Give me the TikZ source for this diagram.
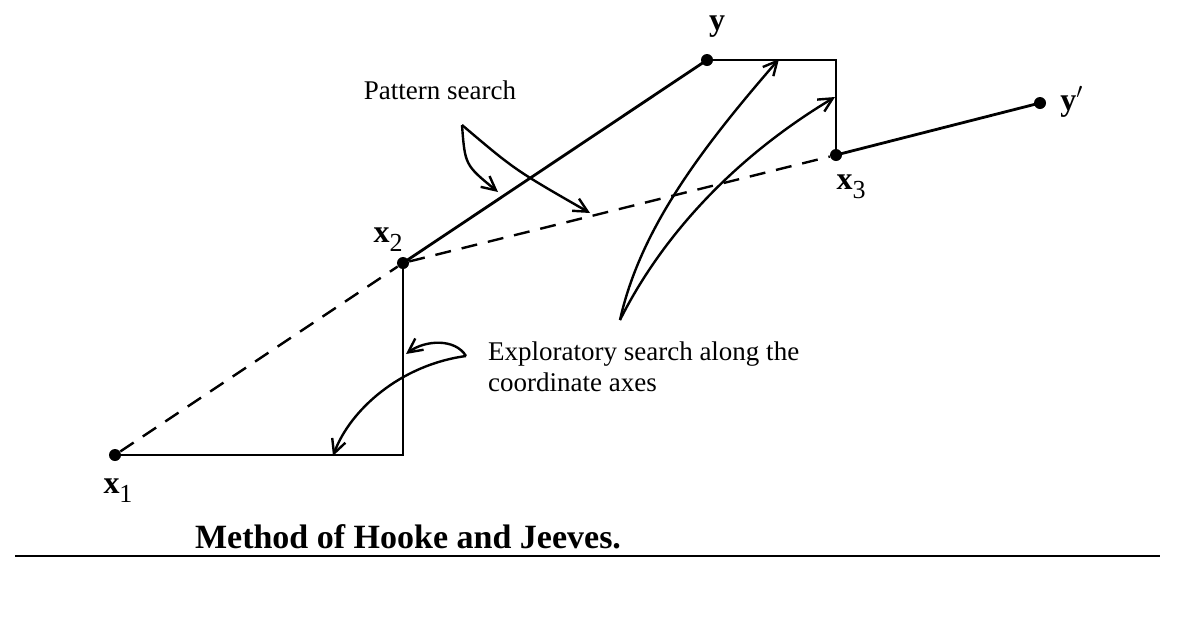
\documentclass[tikz,border=0pt]{standalone}
\usepackage{fontspec}
\setmainfont{Liberation Serif}
\usetikzlibrary{arrows.meta}
\newcommand{\lowsub}[1]{\raisebox{-4.5pt}{\mdseries\fontsize{13}{13}\selectfont #1}}

\begin{document}
\begin{tikzpicture}[
    x=0.5pt, y=-0.5pt,
    pt/.style={circle, fill, inner sep=0pt, minimum size=6pt},
    path/.style={line width=1.4pt},
    pattern/.style={line width=1.2pt, dash pattern=on 8pt off 5.5pt},
    hint/.style={-{Straight Barb[length=7pt, width=7pt, line width=1.2pt]}, line width=1.2pt},
    lbl/.style={font=\fontsize{16}{18}\selectfont\bfseries},
    note/.style={font=\fontsize{13.5}{15.5}\selectfont, align=left},
]
    \useasboundingbox (0,0) rectangle (1190,622);

    % points of the search
    \node[pt] (x1) at (115,455) {};
    \node[pt] (x2) at (403,263) {};
    \node[pt] (y)  at (707,60) {};
    \node[pt] (x3) at (836,155) {};
    \node[pt] (yp) at (1040,103) {};
    \coordinate (c1) at (403,455);
    \coordinate (c2) at (836,60);

    \node[lbl] at (388,240) {x\lowsub{2}};
    \node[lbl] at (717,27) {y};
    \node[lbl] at (851,187) {x\lowsub{3}};
    \node[lbl] at (1072,102) {y\mdseries$'$};
    \node[lbl] at (118,491) {x\lowsub{1}};

    % exploratory moves and pattern moves
    \draw[path] (x1.center) -- (c1) -- (x2.center);
    \draw[path] (x2.center) -- (y.center);
    \draw[path] (y.center) -- (c2) -- (x3.center);
    \draw[path] (x3.center) -- (yp.center);
    \draw[pattern] (x1) -- (x2);
    \draw[pattern] (x2) -- (x3);

    % pattern search notes
    \node[note] (pat) at (440,90) {Pattern search};
    \coordinate (pa) at (462,125);
    \coordinate (pb) at (498,192);
    \coordinate (pc) at (590,213);
    \draw[hint] (pa) .. controls (465,165) .. (pb);
    \draw[hint] (pa) .. controls (515,170) .. (pc);

    % exploratory search notes
    \node[note, anchor=west] (exp) at (481,367) {Exploratory search along the\\coordinate axes};
    \coordinate (ea) at (466,356);
    \coordinate (eb) at (406,354);
    \coordinate (ec) at (333,456);
    \draw[hint] (ea) .. controls (455,338) and (425,340) .. (eb);
    \draw[hint] (ea) .. controls (400,365) and (350,410) .. (ec);
    \coordinate (ua) at (620,320);
    \coordinate (ub) at (779,59);
    \coordinate (uc) at (835,97);
    \draw[hint] (ua) .. controls (640,230) and (700,150) .. (ub);
    \draw[hint] (ua) .. controls (660,240) and (730,160) .. (uc);

    % caption
    \node[anchor=west, font=\fontsize{17}{19}\selectfont\bfseries] (cap) at (188,537) {Method of Hooke and Jeeves.};
    \draw[line width=0.8pt] (15,556) -- (1160,556);
\end{tikzpicture}
\end{document}
